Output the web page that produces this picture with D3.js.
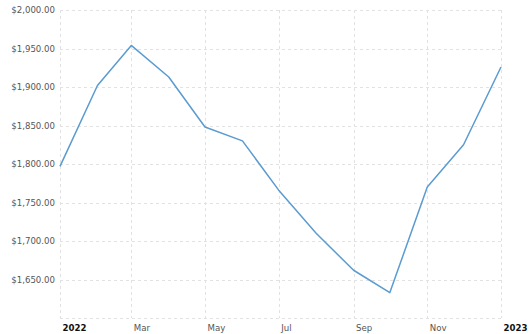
<!DOCTYPE html>
<html>
<head>
<meta charset="utf-8">
<script src="https://cdn.jsdelivr.net/npm/d3@7"></script>
<style>
  html, body { margin: 0; padding: 0; background: #fff; }
  svg { display: block; font-family: Verdana, "DejaVu Sans", sans-serif; }
</style>
</head>
<body>
<svg id="chart" width="530" height="334"></svg>
<script>
// monthly points, first of each month
const months = ['2022-01-01', '2022-02-01', '2022-03-01', '2022-04-01', '2022-05-01', '2022-06-01',
  '2022-07-01', '2022-08-01', '2022-09-01', '2022-10-01', '2022-11-01', '2022-12-01', '2023-01-01'];
const prices = [1797, 1902, 1954, 1913, 1848, 1830, 1766, 1710, 1662, 1633, 1770, 1825, 1926];

const yTicks = [1650, 1700, 1750, 1800, 1850, 1900, 1950, 2000];
const xTicks = ['2022-01-01', '2022-03-01', '2022-05-01', '2022-07-01', '2022-09-01', '2022-11-01', '2023-01-01'];
const xTickLabels = ['2022', 'Mar', 'May', 'Jul', 'Sep', 'Nov', '2023'];

const parse = d3.timeParse('%Y-%m-%d');
const data = months.map((m, i) => ({ date: parse(m), value: prices[i] }));

const margin = { top: 10, right: 29, bottom: 16, left: 60 };
const width = 530, height = 334;
const fontSize = 8.6;

const svg = d3.select('#chart');

const x = d3.scaleTime()
  .domain([parse('2022-01-01'), parse('2023-01-01')])
  .range([margin.left, width - margin.right]);

const y = d3.scaleLinear()
  .domain([1600, 2000])
  .range([height - margin.bottom, margin.top]);

// grid
const grid = svg.append('g')
  .attr('stroke', '#e2e2e2')
  .attr('stroke-width', 1)
  .attr('stroke-dasharray', '3,3')
  .attr('shape-rendering', 'crispEdges');

grid.selectAll('line.h')
  .data([1600].concat(yTicks))
  .join('line')
  .attr('class', 'h')
  .attr('x1', margin.left)
  .attr('x2', width - margin.right)
  .attr('y1', d => Math.round(y(d)) + 0.5)
  .attr('y2', d => Math.round(y(d)) + 0.5);

grid.selectAll('line.v')
  .data(xTicks.map(parse))
  .join('line')
  .attr('class', 'v')
  .attr('x1', d => Math.round(x(d)) + 0.5)
  .attr('x2', d => Math.round(x(d)) + 0.5)
  .attr('y1', margin.top)
  .attr('y2', height - margin.bottom);

// y axis labels
const yAxis = d3.axisLeft(y)
  .tickValues(yTicks)
  .tickSize(0)
  .tickPadding(5)
  .tickFormat(d => '$' + d3.format(',.2f')(d));

svg.append('g')
  .attr('transform', `translate(${margin.left},0)`)
  .call(yAxis)
  .call(g => g.select('.domain').remove())
  .call(g => g.selectAll('text')
    .attr('fill', '#555')
    .attr('font-size', fontSize)
    .attr('font-family', 'Verdana, "DejaVu Sans", sans-serif'));

// x axis labels, left aligned at gridline
const xAxis = d3.axisBottom(x)
  .tickValues(xTicks.map(parse))
  .tickSize(0)
  .tickPadding(7)
  .tickFormat((d, i) => xTickLabels[i]);

svg.append('g')
  .attr('transform', `translate(0,${height - margin.bottom})`)
  .call(xAxis)
  .call(g => g.select('.domain').remove())
  .call(g => g.selectAll('text')
    .attr('text-anchor', 'start')
    .attr('dx', 2)
    .attr('font-size', fontSize)
    .attr('font-family', 'Verdana, "DejaVu Sans", sans-serif')
    .attr('fill', (d, i) => (i === 0 || i === xTicks.length - 1) ? '#111' : '#555')
    .attr('font-weight', (d, i) => (i === 0 || i === xTicks.length - 1) ? 'bold' : 'normal'));

// price line
const line = d3.line()
  .x(d => x(d.date))
  .y(d => y(d.value));

svg.append('path')
  .datum(data)
  .attr('fill', 'none')
  .attr('stroke', '#5b9bd0')
  .attr('stroke-width', 1.5)
  .attr('stroke-linejoin', 'round')
  .attr('d', line);
</script>
</body>
</html>
